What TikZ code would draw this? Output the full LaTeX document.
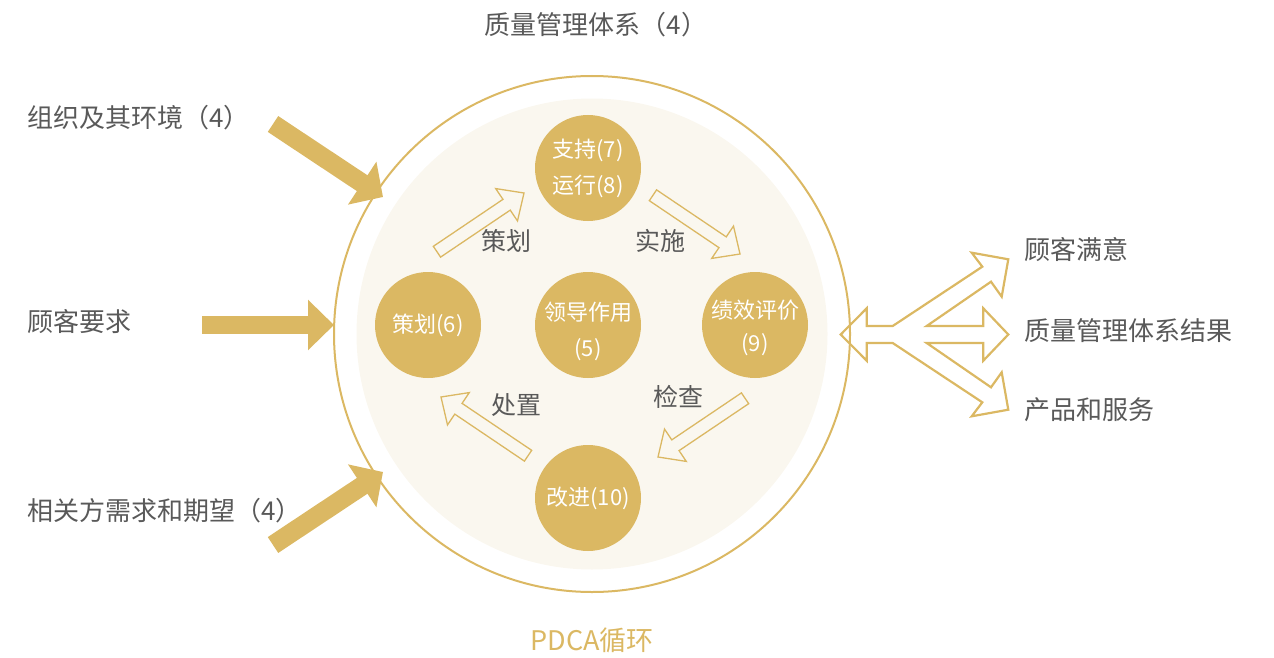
\documentclass[tikz,border=0pt]{standalone}
\usepackage{fontspec}
\setmainfont{Noto Sans CJK SC}
\usetikzlibrary{arrows.meta}
\definecolor{pgold}{HTML}{DBB863}
\definecolor{pcream}{HTML}{FAF7EF}
\definecolor{ptxt}{HTML}{595959}
\newcommand\hollowarrow[2]{%
  \draw[hollow, shift={(#1)}, rotate=#2] (0,0) -- (-21,-19.5) -- (-21,-6.5) -- (-105,-6.5) -- (-105,6.5) -- (-21,6.5) -- (-21,19.5) -- cycle;}
\begin{document}
\begin{tikzpicture}[x=1pt,y=-1pt,
  lbl/.style={text=ptxt, font=\fontsize{26}{30}\selectfont, inner sep=0pt},
  cyc/.style={text=ptxt, font=\fontsize{25}{28}\selectfont, inner sep=0pt},
  stage/.style={circle, fill=pgold, minimum size=106pt, inner sep=0pt, text=white, align=center, font=\fontsize{22}{36}\selectfont},
  bigarrow/.style={draw=pgold, line width=19pt, -{Triangle[length=25pt,width=50pt]}},
  hollow/.style={draw=pgold, line width=1.3pt, line join=miter},
  prong/.style={draw=pgold, line width=2.2pt, line join=miter}]
\useasboundingbox (0,0) rectangle (1274,658);
% circles
\node[circle, fill=pcream, minimum size=471pt, inner sep=0pt] (inner) at (592,334) {};
\node[circle, draw=pgold, line width=2pt, minimum size=516pt, inner sep=0pt] (outer) at (592,334) {};
% stages
\node[stage] (sup) at (588,168) {支持(7)\\运行(8)};
\node[stage] (plan) at (428,325) {策划(6)};
\node[stage] (lead) at (588,325) {};
\node[text=white, align=center, font=\fontsize{22}{36}\selectfont, inner sep=0pt] (leadtxt) at (588,331) {领导作用\\(5)};
\node[stage] (eval) at (755,325) {};
\node[text=white, align=center, font=\fontsize{22}{33}\selectfont, inner sep=0pt] (evaltxt) at (755,328) {绩效评价\\(9)};
\node[stage] (imp) at (588,498) {改进(10)};
% PDCA arrows
\coordinate (t1) at (524,193);
\coordinate (t2) at (740,254);
\coordinate (t3) at (658,457);
\coordinate (t4) at (441,397);
\hollowarrow{t1}{34}
\hollowarrow{t2}{-34}
\hollowarrow{t3}{-146}
\hollowarrow{t4}{146}
\node[cyc] (lp) at (506,241) {策划};
\node[cyc] (ld) at (660,241) {实施};
\node[cyc] (la) at (516,405) {处置};
\node[cyc] (lc) at (678,397) {检查};
% texts
\node[lbl] (title) at (596,25) {质量管理体系（4）};
\node[lbl, anchor=west] (org) at (27,118) {组织及其环境（4）};
\node[lbl, anchor=west] (cust) at (27,322) {顾客要求};
\node[lbl, anchor=west] (party) at (27,511) {相关方需求和期望（4）};
\node[lbl, anchor=west] (sat) at (1024,250) {顾客满意};
\node[lbl, anchor=west] (res) at (1024,331) {质量管理体系结果};
\node[lbl, anchor=west] (prod) at (1024,410) {产品和服务};
\node[text=pgold, font=\fontsize{27}{30}\selectfont, inner sep=0pt] (pdca) at (592,640) {PDCA循环};
% input arrows
\coordinate (a1s) at (273,124);
\coordinate (a1e) at (383,197);
\coordinate (a2s) at (202,325);
\coordinate (a2e) at (334,325);
\coordinate (a3s) at (273,545);
\coordinate (a3e) at (383,472);
\draw[bigarrow] (a1s) -- (a1e);
\draw[draw=pgold, line width=18pt, -{Triangle[length=26pt,width=49pt]}] (a2s) -- (a2e);
\draw[bigarrow] (a3s) -- (a3e);
% output three-pronged arrow
\draw[prong] (840.7,334.5) -- (866.7,308.3) -- (866.7,326) -- (892.7,326) -- (982.3,266.7) -- (971.7,252.7) -- (1008.3,259.3) -- (1001.7,296.7) -- (991,281.7) -- (926.7,326) -- (983.3,326) -- (983.3,308.3) -- (1008.3,334.5) -- (983.3,360.7) -- (983.3,343) -- (926.7,343) -- (991,387.3) -- (1001.7,372.3) -- (1008.3,409.7) -- (971.7,416.3) -- (982.3,402.3) -- (892.7,343) -- (866.7,343) -- (866.7,360.7) -- cycle;
\end{tikzpicture}
\end{document}
